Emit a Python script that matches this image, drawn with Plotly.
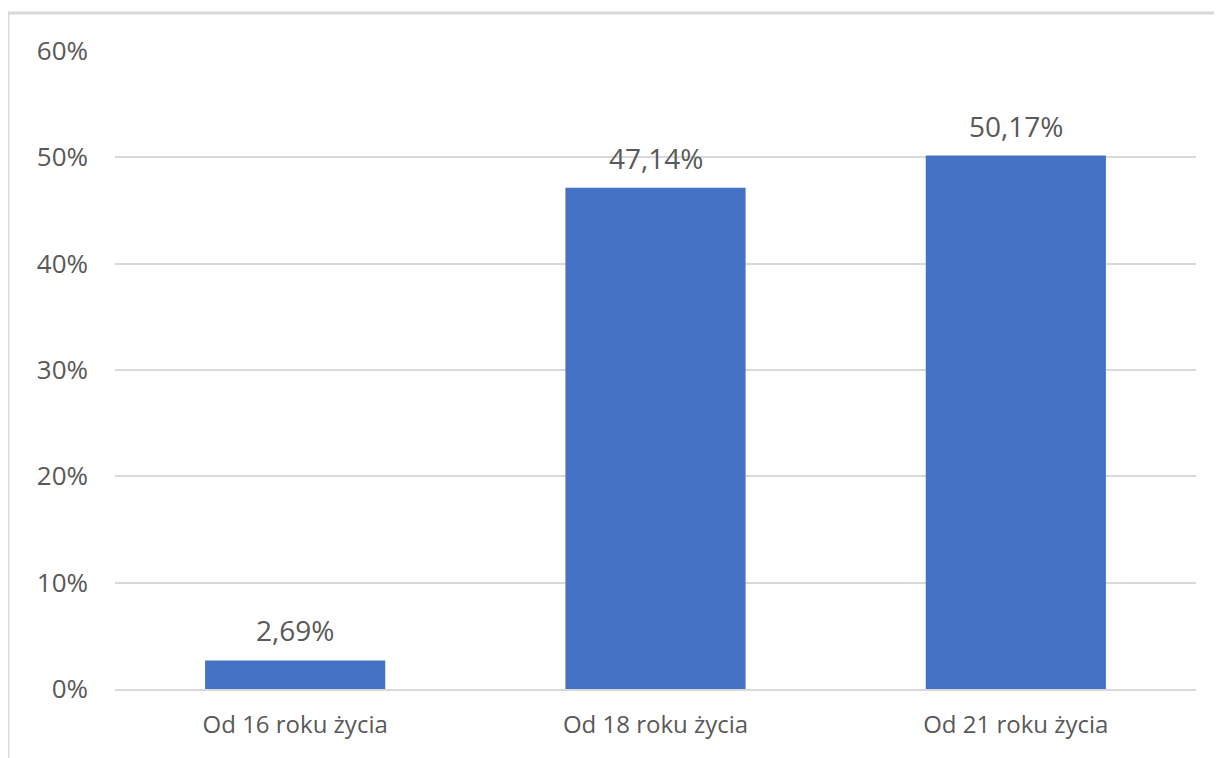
import plotly.graph_objects as go

# dane z wykresu
kategorie = ['Od 16 roku życia', 'Od 18 roku życia', 'Od 21 roku życia']
wartosci = [0.0269, 0.4714, 0.5017]
etykiety = [f'{v * 100:.2f}%'.replace('.', ',') for v in wartosci]
y_ticks = [0, 0.1, 0.2, 0.3, 0.4, 0.5, 0.6]

FONT = 'Open Sans'
GRAY = '#595959'
FRAME = '#d9d9d9'

fig = go.Figure()
fig.add_trace(go.Bar(x=kategorie, y=wartosci, marker_color='#4472c4',
                     marker_line_width=0, width=0.5))

# etykiety danych nad słupkami
for k, v, t in zip(kategorie, wartosci, etykiety):
    fig.add_annotation(x=k, y=v, text=t, showarrow=False, yanchor='middle',
                       yshift=30, font=dict(family=FONT, size=28, color=GRAY))

# ramka wykresu (przycięta z prawej i od dołu)
fx = -107 / 1081
fy = 1 + 38 / 638
fig.add_shape(type='line', xref='paper', yref='paper',
              x0=fx, x1=1.05, y0=fy, y1=fy, line=dict(color=FRAME, width=3))
fig.add_shape(type='line', xref='paper', yref='paper',
              x0=fx, x1=fx, y0=-0.2, y1=fy + 1.5 / 638, line=dict(color=FRAME, width=3))

fig.update_layout(
    width=1214, height=750,
    margin=dict(l=107, r=26, t=43, b=69),
    plot_bgcolor='white', paper_bgcolor='white',
    showlegend=False, bargap=0.5,
    font=dict(family=FONT, color=GRAY),
)
fig.update_yaxes(range=[0, 0.6], tickvals=y_ticks, tickformat='.0%',
                 showgrid=True, gridcolor=FRAME, gridwidth=2,
                 zeroline=False, showline=False, ticks='',
                 ticklabelstandoff=26, tickfont=dict(family=FONT, size=26, color=GRAY))
fig.update_xaxes(showline=True, linecolor=FRAME, linewidth=2, ticks='',
                 ticklabelstandoff=13, tickfont=dict(family=FONT, size=24, color=GRAY))

fig.write_html("out.html")
